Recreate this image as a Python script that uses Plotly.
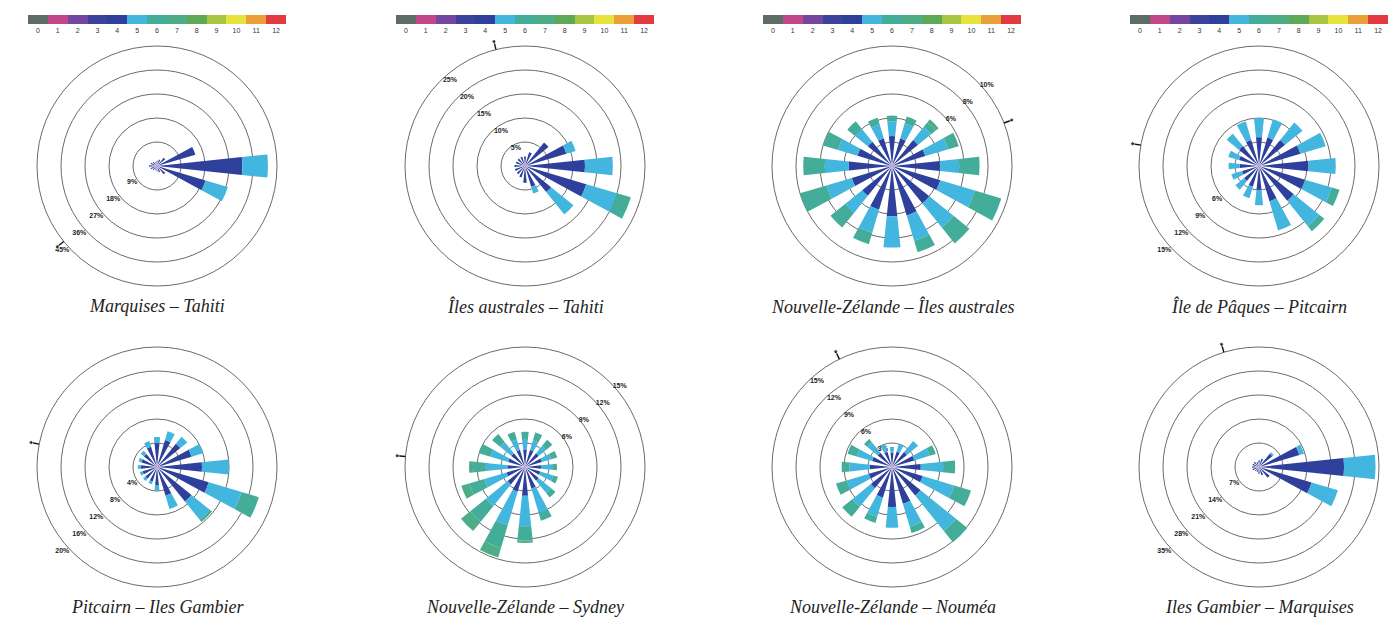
import plotly.graph_objects as go

# ---------------------------------------------------------------- data
DIRECTIONS = ["N", "NNE", "NE", "ENE", "E", "ESE", "SE", "SSE",
              "S", "SSW", "SW", "WSW", "W", "WNW", "NW", "NNW"]
BEARINGS = [0, 22.5, 45, 67.5, 90, 112.5, 135, 157.5,
            180, 202.5, 225, 247.5, 270, 292.5, 315, 337.5]

# wind speed classes (colour scale 0 … 12)
SPEED_CLASSES = list(range(13))
CLASS_COLORS = ["#5f6b66", "#c2478a", "#7446a0", "#3b449a", "#2f409c",
                "#42b6de", "#44ad9a", "#4dad86", "#5ea955", "#a9c441",
                "#e6e33d", "#eb9f38", "#e23a40"]

ROUTE_TITLES = ["Marquises – Tahiti", "Îles australes – Tahiti",
                "Nouvelle-Zélande – Îles australes", "Île de Pâques – Pitcairn",
                "Pitcairn – Iles Gambier", "Nouvelle-Zélande – Sydney",
                "Nouvelle-Zélande – Nouméa", "Iles Gambier – Marquises"]
RADIAL_MAX = [45, 25, 10, 15, 20, 15, 15, 35]
RADIAL_STEP = [9, 5, 2, 3, 4, 3, 3, 7]
FIRST_LABEL = [9, 5, 6, 6, 4, 6, 3, 7]   # inner rings below this are left unlabelled
LABEL_ANGLE = [225, 135, 45, 225, 225, 45, 135, 225]
ROUTE_BEARING = [231, 346, 69, 280, 281, 275, 334, 343]

# frequency (%) per direction, split by speed class
MARQUISES_TAHITI = {
    2: [1.0] * 16,
    4: [1.0, 1.5, 3.0, 14.0, 31.0, 18.0, 3.0, 1.5, 1.0, 0.5, 1.0, 1.5, 2.0, 1.5, 1.0, 0.5],
    5: [0, 0, 0, 0, 9.6, 8.7, 0, 0, 0, 0, 0, 0, 0, 0, 0, 0],
}
AUSTRALES_TAHITI = {
    2: [0.6] * 16,
    4: [1.4, 2.4, 5.7, 8.4, 11.9, 12.7, 6.4, 3.9, 2.9, 1.9, 1.6, 1.6, 1.6, 1.4, 1.4, 1.4],
    5: [0, 0, 0, 2.0, 5.8, 6.7, 6.0, 1.5, 0, 0, 0, 0, 0, 0, 0, 0],
    6: [0, 0, 0, 0, 0, 3.0, 0, 0, 0, 0, 0, 0, 0, 0, 0, 0],
}
NZ_AUSTRALES = {
    2: [0.25] * 16,
    4: [2.25, 2.15, 2.55, 2.65, 3.75, 3.95, 3.75, 4.05, 3.95, 3.55, 2.95, 3.25, 3.35, 2.75, 2.35, 2.15],
    5: [1.2, 1.3, 1.4, 2.0, 1.6, 3.0, 2.6, 2.2, 2.6, 2.0, 1.8, 2.2, 2.0, 1.7, 1.4, 1.2],
    6: [0.5, 0.6, 0.5, 0.9, 1.7, 2.3, 1.7, 1.0, 0, 1.0, 1.6, 2.3, 1.8, 1.3, 0.8, 0.6],
    7: [0, 0, 0.3, 0, 0, 0, 0, 0, 0, 0, 0, 0, 0, 0, 0, 0],
}
PAQUES_PITCAIRN = {
    2: [0.4] * 16,
    4: [3.2, 3.3, 3.8, 5.0, 5.8, 5.6, 5.2, 4.2, 2.6, 2.3, 2.0, 1.8, 2.0, 2.2, 2.8, 3.0],
    5: [2.4, 2.4, 2.8, 3.3, 3.4, 3.5, 4.1, 3.8, 1.9, 1.5, 1.4, 1.4, 1.4, 1.4, 2.0, 2.4],
    6: [0, 0, 0, 0, 0, 1.0, 0.8, 0, 0, 0, 0, 0, 0, 0, 0, 0],
}
PITCAIRN_GAMBIER = {
    2: [0.5] * 16,
    4: [3.5, 4.2, 4.5, 5.5, 7.0, 8.5, 6.9, 4.5, 2.5, 2.0, 2.0, 2.0, 2.2, 2.2, 2.3, 3.0],
    5: [1.0, 1.5, 1.5, 2.0, 4.5, 5.7, 3.9, 2.3, 1.0, 0.5, 0.5, 0.5, 0.5, 0.5, 0.7, 1.0],
    6: [0, 0, 0, 0, 0, 3.0, 0.5, 0, 0, 0, 0, 0, 0, 0, 0, 0],
}
NZ_SYDNEY = {
    2: [0.4] * 16,
    4: [1.8, 1.8, 1.8, 1.8, 1.6, 1.6, 1.8, 2.4, 3.2, 2.8, 2.4, 2.0, 1.8, 1.8, 1.8, 1.8],
    5: [1.2, 1.3, 1.2, 1.2, 1.4, 1.7, 2.0, 3.2, 3.8, 4.4, 3.5, 2.9, 2.7, 2.3, 1.8, 1.4],
    6: [1.0, 1.0, 1.0, 0.8, 0.6, 0.6, 0.7, 1.0, 1.8, 3.0, 2.5, 2.0, 1.6, 1.5, 1.3, 1.0],
    7: [0, 0, 0, 0, 0, 0, 0, 0, 0.3, 1.2, 1.5, 1.0, 0.5, 0, 0, 0],
}
NZ_NOUMEA = {
    2: [0.4] * 16,
    4: [1.4, 1.6, 2.0, 2.5, 3.2, 3.6, 4.2, 4.4, 4.6, 3.6, 3.0, 2.6, 2.4, 2.2, 1.9, 1.6],
    5: [0.7, 1.0, 1.8, 2.0, 2.8, 4.1, 5.7, 3.0, 2.6, 2.5, 3.0, 2.9, 2.5, 2.0, 1.7, 1.0],
    6: [0, 0, 0, 0.8, 1.5, 2.2, 1.8, 0.8, 0, 0.8, 1.6, 1.4, 1.0, 1.2, 0.5, 0],
}
GAMBIER_MARQUISES = {
    2: [0.8] * 16,
    4: [1.2, 1.7, 4.2, 11.5, 24.0, 15.2, 3.2, 1.7, 1.2, 0.7, 0.7, 1.2, 1.2, 1.2, 1.2, 0.7],
    5: [0, 0, 0.5, 1.4, 9.2, 8.0, 0, 0, 0, 0, 0, 0, 0, 0, 0, 0],
}
ROUTES = [MARQUISES_TAHITI, AUSTRALES_TAHITI, NZ_AUSTRALES, PAQUES_PITCAIRN,
          PITCAIRN_GAMBIER, NZ_SYDNEY, NZ_NOUMEA, GAMBIER_MARQUISES]

# ---------------------------------------------------------------- layout
W, H = 1396, 618
COL_CX = [157, 525, 892, 1259]
ROW_CY = [166, 467]
TITLE_Y = [306, 607]
RAD = 120          # pixel radius of the outermost ring
PAD = 1.12         # radial room kept outside the outer ring for the heading mark

fig = go.Figure()
layout = dict(
    width=W, height=H, margin=dict(l=0, r=0, t=0, b=0),
    paper_bgcolor="white", plot_bgcolor="white", showlegend=False,
    font=dict(family="Liberation Sans", color="#222"),
    annotations=[],
)

GRID = "#6a6a6a"


def horizontal(angle):
    """tick angle that keeps radial labels upright for a given axis angle"""
    a = angle % 360
    return a - 360 if a > 180 else a


for i, route in enumerate(ROUTES):
    row, col = divmod(i, 4)
    cx, cy = COL_CX[col], ROW_CY[row]
    name = "polar" if i == 0 else f"polar{i + 1}"
    rmax = RADIAL_MAX[i]

    for cls, values in route.items():
        fig.add_trace(go.Barpolar(
            r=values, theta=BEARINGS, width=[12] * len(BEARINGS),
            marker=dict(color=CLASS_COLORS[cls], line=dict(width=0)),
            subplot=name, hoverinfo="skip",
        ))

    # route heading mark on the outer ring
    fig.add_trace(go.Scatterpolar(
        r=[rmax, rmax * 1.07], theta=[ROUTE_BEARING[i]] * 2,
        mode="lines+markers", subplot=name, hoverinfo="skip",
        line=dict(color="#111", width=1.4),
        marker=dict(size=[0, 4], color="#111"),
    ))

    ticks = list(range(RADIAL_STEP[i], rmax + 1, RADIAL_STEP[i]))
    labels = [f"<b>{t}%</b>" if t >= FIRST_LABEL[i] else "" for t in ticks]
    R = RAD * PAD
    layout[name] = dict(
        domain=dict(x=[(cx - R) / W, (cx + R) / W],
                    y=[(H - cy - R) / H, (H - cy + R) / H]),
        bgcolor="rgba(0,0,0,0)",
        barmode="stack",
        radialaxis=dict(range=[0, rmax * PAD], tickvals=ticks, ticktext=labels,
                        angle=LABEL_ANGLE[i], tickangle=horizontal(LABEL_ANGLE[i]),
                        showline=False, ticks="", showgrid=True,
                        gridcolor=GRID, gridwidth=0.7, layer="below traces",
                        tickfont=dict(size=7, color="#222", family="Liberation Sans")),
        angularaxis=dict(rotation=90, direction="clockwise", showgrid=False,
                         showticklabels=False, ticks="", showline=False),
    )

    layout["annotations"].append(dict(
        text=f"<i>{ROUTE_TITLES[i]}</i>", xref="paper", yref="paper",
        x=cx / W, y=(H - TITLE_Y[row]) / H, xanchor="center", yanchor="middle",
        showarrow=False, font=dict(family="Liberation Serif", size=18, color="#222"),
    ))

# speed colour bars above the top row
scale = []
n = len(SPEED_CLASSES)
for k, c in enumerate(CLASS_COLORS):
    scale += [[k / n, c], [(k + 1) / n, c]]

for col, cx in enumerate(COL_CX):
    xa = "x" if col == 0 else f"x{col + 1}"
    ya = "y" if col == 0 else f"y{col + 1}"
    fig.add_trace(go.Heatmap(
        z=[SPEED_CLASSES], x=SPEED_CLASSES, y=[0], xaxis=xa, yaxis=ya,
        colorscale=scale, zmin=-0.5, zmax=12.5, showscale=False, hoverinfo="skip",
    ))
    key = "xaxis" if col == 0 else f"xaxis{col + 1}"
    ykey = "yaxis" if col == 0 else f"yaxis{col + 1}"
    layout[key] = dict(domain=[(cx - 129) / W, (cx + 129) / W], anchor=ya,
                       range=[-0.5, 12.5], tickvals=SPEED_CLASSES, ticks="",
                       showgrid=False, zeroline=False, showline=False,
                       tickfont=dict(size=7, color="#333"), ticklabelstandoff=1)
    layout[ykey] = dict(domain=[(H - 24) / H, (H - 15) / H], anchor=xa,
                        visible=False, range=[-0.5, 0.5])

fig.update_layout(**layout)
fig.write_html("out.html")
